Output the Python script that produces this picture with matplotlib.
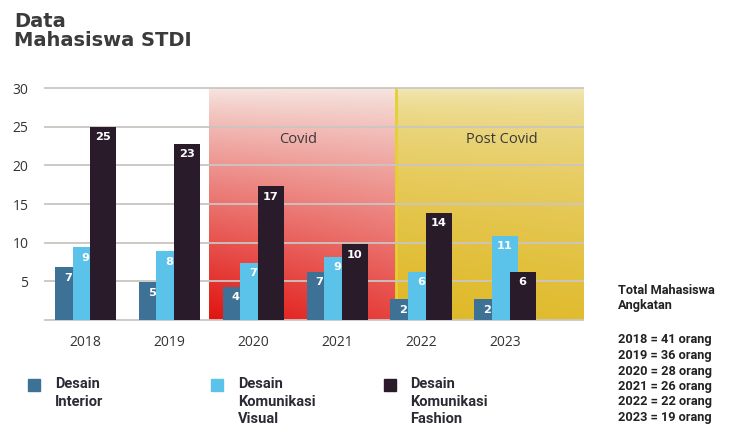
import numpy as np
import matplotlib
matplotlib.use("Agg")
import matplotlib.pyplot as plt
from matplotlib.patches import Rectangle

# ---------------- data ----------------
years = ["2018", "2019", "2020", "2021", "2022", "2023"]
series_names = ["Desain\nInterior", "Desain\nKomunikasi\nVisual", "Desain\nKomunikasi\nFashion"]
interior = [6.8, 4.9, 4.3, 6.2, 2.7, 2.7]
kom_visual = [9.4, 8.9, 7.4, 8.2, 6.2, 10.9]
kom_fashion = [25.0, 22.8, 17.3, 9.8, 13.9, 6.2]
interior_labels = ["7", "5", "4", "7", "2", "2"]
kom_visual_labels = ["9", "8", "7", "9", "6", "11"]
kom_fashion_labels = ["25", "23", "17", "10", "14", "6"]
totals = [41, 36, 28, 26, 22, 19]
y_ticks = [0, 5, 10, 15, 20, 25, 30]
period_labels = ["Covid", "Post Covid"]

# ---------------- style ----------------
colors = ["#3d7296", "#5bc3ea", "#2a1b2b"]
W, H = 734, 428
fig = plt.figure(figsize=(W / 100, H / 100), dpi=100)
fig.patch.set_facecolor("white")

ax_l, ax_r, ax_b, ax_t = 45, 583, 320, 88
ax = fig.add_axes([ax_l / W, 1 - ax_b / H, (ax_r - ax_l) / W, (ax_b - ax_t) / H])
ax.set_facecolor("none")
x = np.arange(len(years))
xlim = (-0.483, 5.93)
for s in ax.spines.values():
    s.set_visible(False)

# ---------------- shaded periods ----------------
covid_span = (1.47, 3.70)
post_span = (3.70, xlim[1])
ny, nx = 200, 100
yf = np.linspace(1, 0, ny)[:, None]  # 1 at top
xf = np.linspace(0, 1, nx)[None, :]

top_c = np.array([246, 230, 225]) / 255
red = np.array([225, 20, 16]) / 255
a = ((1 - yf) ** 0.85) * (1 - 0.22 * xf)
img = top_c[None, None, :] * (1 - a[..., None]) + red[None, None, :] * a[..., None]
ax.imshow(img, extent=(covid_span[0], covid_span[1], 0, 30), aspect="auto",
          interpolation="bilinear", zorder=0)

ytop = np.array([243, 236, 196]) / 255
ybot = np.array([223, 184, 36]) / 255
b = ((1 - yf) ** 0.45) * (1 - 0.08 * xf)
img2 = ytop[None, None, :] * (1 - b[..., None]) + ybot[None, None, :] * b[..., None]
ax.imshow(img2, extent=(post_span[0], post_span[1], 0, 30), aspect="auto",
          interpolation="bilinear", zorder=0)
ax.plot([post_span[0], post_span[0]], [0, 30], color="#e6d030", lw=2.0, zorder=1)
ax.set_xlim(*xlim)
ax.set_ylim(0, 30)

# ---------------- grid ----------------
for yt in y_ticks:
    ax.axhline(yt, color="#c9c6c2", lw=1.3, zorder=1, clip_on=False)

# ---------------- bars ----------------
offsets = [-0.21, 0.0, 0.21]
width = 0.31
all_vals = [interior, kom_visual, kom_fashion]
all_labels = [interior_labels, kom_visual_labels, kom_fashion_labels]
for k, (vals, labs) in enumerate(zip(all_vals, all_labels)):
    bars = ax.bar(x + offsets[k], vals, width=width, color=colors[k], zorder=3 + k)
    for rect, lab in zip(bars, labs):
        ax.annotate(lab, (rect.get_x() + rect.get_width() / 2, rect.get_height()),
                    xytext=(0, -7.5), textcoords="offset points", ha="center", va="center",
                    color="white", fontsize=8.2, fontweight="bold",
                    family="DejaVu Sans", zorder=10)

# period labels
ax.text(2.53, 23.3, period_labels[0], ha="center", va="center", fontsize=10.5,
        family="Open Sans", color="#383838", zorder=10)
ax.text(4.96, 23.3, period_labels[1], ha="center", va="center", fontsize=10.5,
        family="Open Sans", color="#383838", zorder=10)

# ticks
ax.set_xticks(x)
ax.set_xticklabels(years, fontsize=10, family="Open Sans", color="#333333")
ax.set_yticks(y_ticks)
ax.set_yticklabels(["" if t == 0 else str(t) for t in y_ticks], fontsize=10,
                   family="Open Sans", color="#333333")
ax.tick_params(axis="x", length=0, pad=11)
ax.tick_params(axis="y", length=0, pad=12)

# ---------------- title ----------------
fig.text(14 / W, 1 - 27 / H, "Data", fontsize=14, fontweight="bold",
         family="DejaVu Sans", color="#3b3b3b", va="baseline", ha="left")
fig.text(14 / W, 1 - 46 / H, "Mahasiswa STDI", fontsize=14, fontweight="bold",
         family="DejaVu Sans", color="#3b3b3b", va="baseline", ha="left")

# ---------------- legend ----------------
leg_sq_x = [28, 211, 384]
leg_tx_x = [55, 238, 410]
for k in range(3):
    fig.patches.append(Rectangle((leg_sq_x[k] / W, 1 - 391 / H), 12 / W, 12 / H,
                                 transform=fig.transFigure, color=colors[k]))
    for j, line in enumerate(series_names[k].split("\n")):
        fig.text(leg_tx_x[k] / W, 1 - (384 + 17.5 * j) / H, line, fontsize=10.5,
                 fontweight="bold", family="Roboto",
                 color="#2b2b35", va="center", ha="left")

# ---------------- totals ----------------
tot_kw = dict(fontsize=9.2, fontweight="bold", family="Roboto", color="#222222",
              va="center", ha="left")
fig.text(618 / W, 1 - 291 / H, "Total Mahasiswa", **tot_kw)
fig.text(618 / W, 1 - 306 / H, "Angkatan", **tot_kw)
for i, (yr, t) in enumerate(zip(years, totals)):
    fig.text(618 / W, 1 - (340 + 15.5 * i) / H, f"{yr} = {t} orang", **tot_kw)

fig.savefig("out.png", dpi=100, facecolor="white")
